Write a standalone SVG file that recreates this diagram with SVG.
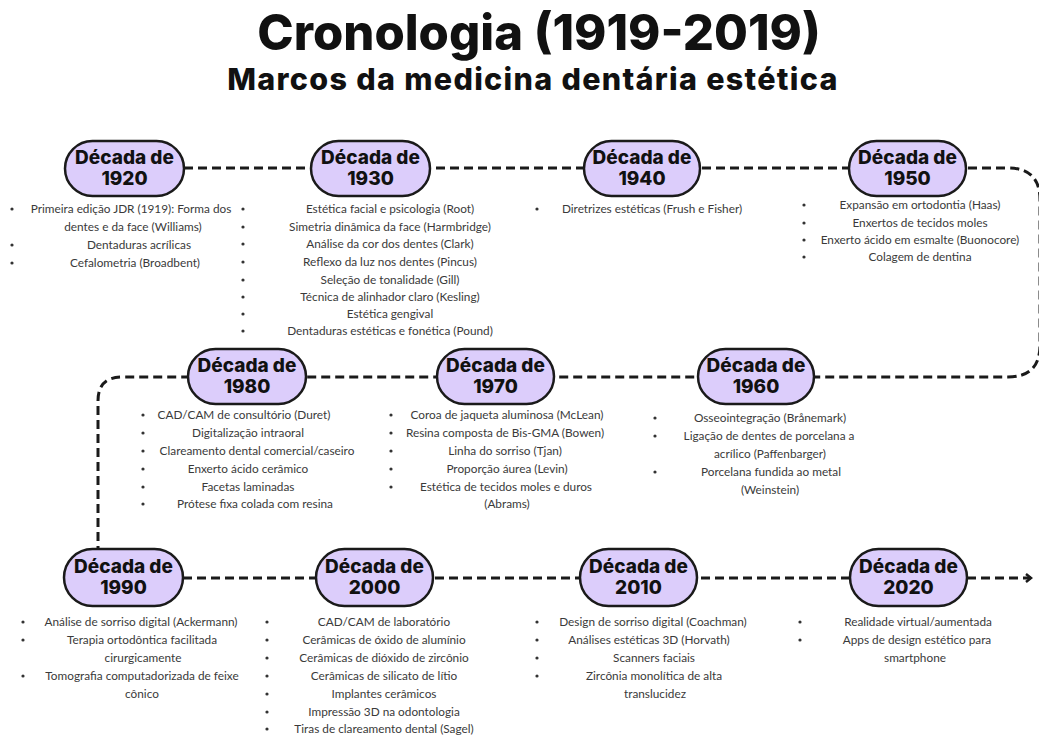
<svg xmlns="http://www.w3.org/2000/svg" width="1039" height="736" viewBox="0 0 1039 736">
<style>
.title{font-family:Inter,"Liberation Sans",sans-serif;font-weight:800;fill:#111;text-anchor:middle}
.pill{fill:#dccdfb;stroke:#1a1a1a;stroke-width:2.5}
.nt{font-family:Inter,"Liberation Sans",sans-serif;font-weight:800;font-size:19px;fill:#111;text-anchor:middle}
.it{font-family:Lato,"Liberation Sans",sans-serif;font-size:11.8px;fill:#3a3a3a;text-anchor:middle}
.b{fill:#333}
.dash{fill:none;stroke:#1a1a1a;stroke-width:3;stroke-dasharray:9 5}
</style>
<defs>
<marker id="arr" markerWidth="10" markerHeight="10" refX="6" refY="5" orient="auto" markerUnits="userSpaceOnUse">
<path d="M1,1 L6,5 L1,9" fill="none" stroke="#1a1a1a" stroke-width="2.5"/>
</marker>
</defs>
<rect width="1039" height="736" fill="#fff"/>
<text class="title" x="539" y="50" font-size="49">Cronologia (1919-2019)</text>
<text class="title" x="533" y="90" font-size="30.5" font-weight="700" letter-spacing="1.3">Marcos da medicina dentária estética</text>

<g id="connectors">
<path class="dash" d="M184 168 H1008 Q1040 168 1040 200 V345 Q1040 377 1008 377 H122 Q98 377 98 401 V548"/>
<path class="dash" d="M183 578 H1031" marker-end="url(#arr)"/>
</g>

<g id="n1920">
<rect class="pill" x="65" y="141" width="119" height="55" rx="27.5"/>
<text class="nt" x="124.5" y="164">Década de</text><text class="nt" x="124.5" y="185">1920</text>
</g>
<g id="n1930">
<rect class="pill" x="311" y="141" width="119" height="55" rx="27.5"/>
<text class="nt" x="370.5" y="164">Década de</text><text class="nt" x="370.5" y="185">1930</text>
</g>
<g id="n1940">
<rect class="pill" x="584" y="141" width="116" height="55" rx="27.5"/>
<text class="nt" x="642" y="164">Década de</text><text class="nt" x="642" y="185">1940</text>
</g>
<g id="n1950">
<rect class="pill" x="849" y="141" width="117" height="55" rx="27.5"/>
<text class="nt" x="907.5" y="164">Década de</text><text class="nt" x="907.5" y="185">1950</text>
</g>
<g id="n1980">
<rect class="pill" x="188" y="349" width="118" height="55" rx="27.5"/>
<text class="nt" x="247" y="372">Década de</text><text class="nt" x="247" y="393">1980</text>
</g>
<g id="n1970">
<rect class="pill" x="437" y="349" width="117" height="55" rx="27.5"/>
<text class="nt" x="495.5" y="372">Década de</text><text class="nt" x="495.5" y="393">1970</text>
</g>
<g id="n1960">
<rect class="pill" x="698" y="349" width="116" height="55" rx="27.5"/>
<text class="nt" x="756" y="372">Década de</text><text class="nt" x="756" y="393">1960</text>
</g>
<g id="n1990">
<rect class="pill" x="64" y="549" width="119" height="57" rx="28.5"/>
<text class="nt" x="123.5" y="573">Década de</text><text class="nt" x="123.5" y="594">1990</text>
</g>
<g id="n2000">
<rect class="pill" x="316" y="549" width="117" height="57" rx="28.5"/>
<text class="nt" x="374.5" y="573">Década de</text><text class="nt" x="374.5" y="594">2000</text>
</g>
<g id="n2010">
<rect class="pill" x="580" y="549" width="117" height="57" rx="28.5"/>
<text class="nt" x="638.5" y="573">Década de</text><text class="nt" x="638.5" y="594">2010</text>
</g>
<g id="n2020">
<rect class="pill" x="850" y="549" width="117" height="57" rx="28.5"/>
<text class="nt" x="908.5" y="573">Década de</text><text class="nt" x="908.5" y="594">2020</text>
</g>

<g id="list1920">
<circle class="b" cx="12" cy="209" r="1.6"/><circle class="b" cx="12" cy="245" r="1.6"/><circle class="b" cx="12" cy="263" r="1.6"/>
<text class="it" x="131" y="213">Primeira edição JDR (1919): Forma dos</text>
<text class="it" x="133" y="231">dentes e da face (Williams)</text>
<text class="it" x="139" y="249">Dentaduras acrílicas</text>
<text class="it" x="135" y="267">Cefalometria (Broadbent)</text>
</g>
<g id="list1930">
<circle class="b" cx="243" cy="209" r="1.6"/><circle class="b" cx="243" cy="227" r="1.6"/><circle class="b" cx="243" cy="244" r="1.6"/><circle class="b" cx="243" cy="262" r="1.6"/><circle class="b" cx="243" cy="280" r="1.6"/><circle class="b" cx="243" cy="297" r="1.6"/><circle class="b" cx="243" cy="314" r="1.6"/><circle class="b" cx="243" cy="331" r="1.6"/>
<text class="it" x="390" y="213">Estética facial e psicologia (Root)</text>
<text class="it" x="390" y="231">Simetria dinâmica da face (Harmbridge)</text>
<text class="it" x="390" y="248">Análise da cor dos dentes (Clark)</text>
<text class="it" x="390" y="266">Reflexo da luz nos dentes (Pincus)</text>
<text class="it" x="390" y="284">Seleção de tonalidade (Gill)</text>
<text class="it" x="390" y="301">Técnica de alinhador claro (Kesling)</text>
<text class="it" x="390" y="318">Estética gengival</text>
<text class="it" x="390" y="335">Dentaduras estéticas e fonética (Pound)</text>
</g>
<g id="list1940">
<circle class="b" cx="537" cy="209" r="1.6"/>
<text class="it" x="652" y="213">Diretrizes estéticas (Frush e Fisher)</text>
</g>
<g id="list1950">
<circle class="b" cx="804" cy="205" r="1.6"/><circle class="b" cx="804" cy="223" r="1.6"/><circle class="b" cx="804" cy="240" r="1.6"/><circle class="b" cx="804" cy="257" r="1.6"/>
<text class="it" x="920" y="209">Expansão em ortodontia (Haas)</text>
<text class="it" x="920" y="227">Enxertos de tecidos moles</text>
<text class="it" x="920" y="244">Enxerto ácido em esmalte (Buonocore)</text>
<text class="it" x="920" y="261">Colagem de dentina</text>
</g>
<g id="list1980">
<circle class="b" cx="143" cy="415" r="1.6"/><circle class="b" cx="143" cy="433" r="1.6"/><circle class="b" cx="143" cy="451" r="1.6"/><circle class="b" cx="143" cy="469" r="1.6"/><circle class="b" cx="143" cy="487" r="1.6"/><circle class="b" cx="143" cy="504" r="1.6"/>
<text class="it" x="244" y="419">CAD/CAM de consultório (Duret)</text>
<text class="it" x="248" y="437">Digitalização intraoral</text>
<text class="it" x="257" y="455">Clareamento dental comercial/caseiro</text>
<text class="it" x="248" y="473">Enxerto ácido cerâmico</text>
<text class="it" x="248" y="491">Facetas laminadas</text>
<text class="it" x="255" y="508">Prótese fixa colada com resina</text>
</g>
<g id="list1970">
<circle class="b" cx="391" cy="415" r="1.6"/><circle class="b" cx="391" cy="433" r="1.6"/><circle class="b" cx="391" cy="451" r="1.6"/><circle class="b" cx="391" cy="469" r="1.6"/><circle class="b" cx="391" cy="487" r="1.6"/>
<text class="it" x="507" y="419">Coroa de jaqueta aluminosa (McLean)</text>
<text class="it" x="505" y="437">Resina composta de Bis-GMA (Bowen)</text>
<text class="it" x="505" y="455">Linha do sorriso (Tjan)</text>
<text class="it" x="507" y="473">Proporção áurea (Levin)</text>
<text class="it" x="506" y="491">Estética de tecidos moles e duros</text>
<text class="it" x="507" y="508">(Abrams)</text>
</g>
<g id="list1960">
<circle class="b" cx="655" cy="418" r="1.6"/><circle class="b" cx="655" cy="436" r="1.6"/><circle class="b" cx="655" cy="472" r="1.6"/>
<text class="it" x="770" y="422">Osseointegração (Brånemark)</text>
<text class="it" x="769" y="440">Ligação de dentes de porcelana a</text>
<text class="it" x="770" y="458">acrílico (Paffenbarger)</text>
<text class="it" x="771" y="476">Porcelana fundida ao metal</text>
<text class="it" x="770" y="494">(Weinstein)</text>
</g>
<g id="list1990">
<circle class="b" cx="23" cy="622" r="1.6"/><circle class="b" cx="23" cy="640" r="1.6"/><circle class="b" cx="23" cy="676" r="1.6"/>
<text class="it" x="141" y="626">Análise de sorriso digital (Ackermann)</text>
<text class="it" x="142" y="644">Terapia ortodôntica facilitada</text>
<text class="it" x="143" y="662">cirurgicamente</text>
<text class="it" x="142" y="680">Tomografia computadorizada de feixe</text>
<text class="it" x="142" y="698">cônico</text>
</g>
<g id="list2000">
<circle class="b" cx="267" cy="622" r="1.6"/><circle class="b" cx="267" cy="640" r="1.6"/><circle class="b" cx="267" cy="658" r="1.6"/><circle class="b" cx="267" cy="676" r="1.6"/><circle class="b" cx="267" cy="694" r="1.6"/><circle class="b" cx="267" cy="712" r="1.6"/><circle class="b" cx="267" cy="729" r="1.6"/>
<text class="it" x="384" y="626">CAD/CAM de laboratório</text>
<text class="it" x="384" y="644">Cerâmicas de óxido de alumínio</text>
<text class="it" x="384" y="662">Cerâmicas de dióxido de zircônio</text>
<text class="it" x="384" y="680">Cerâmicas de silicato de lítio</text>
<text class="it" x="384" y="698">Implantes cerâmicos</text>
<text class="it" x="384" y="716">Impressão 3D na odontologia</text>
<text class="it" x="384" y="733">Tiras de clareamento dental (Sagel)</text>
</g>
<g id="list2010">
<circle class="b" cx="537" cy="622" r="1.6"/><circle class="b" cx="537" cy="640" r="1.6"/><circle class="b" cx="537" cy="658" r="1.6"/><circle class="b" cx="537" cy="676" r="1.6"/>
<text class="it" x="653" y="626">Design de sorriso digital (Coachman)</text>
<text class="it" x="649" y="644">Análises estéticas 3D (Horvath)</text>
<text class="it" x="654" y="662">Scanners faciais</text>
<text class="it" x="654" y="680">Zircônia monolítica de alta</text>
<text class="it" x="655" y="698">translucidez</text>
</g>
<g id="list2020">
<circle class="b" cx="800" cy="622" r="1.6"/><circle class="b" cx="800" cy="640" r="1.6"/>
<text class="it" x="918" y="626">Realidade virtual/aumentada</text>
<text class="it" x="917" y="644">Apps de design estético para</text>
<text class="it" x="915" y="662">smartphone</text>
</g>
</svg>
